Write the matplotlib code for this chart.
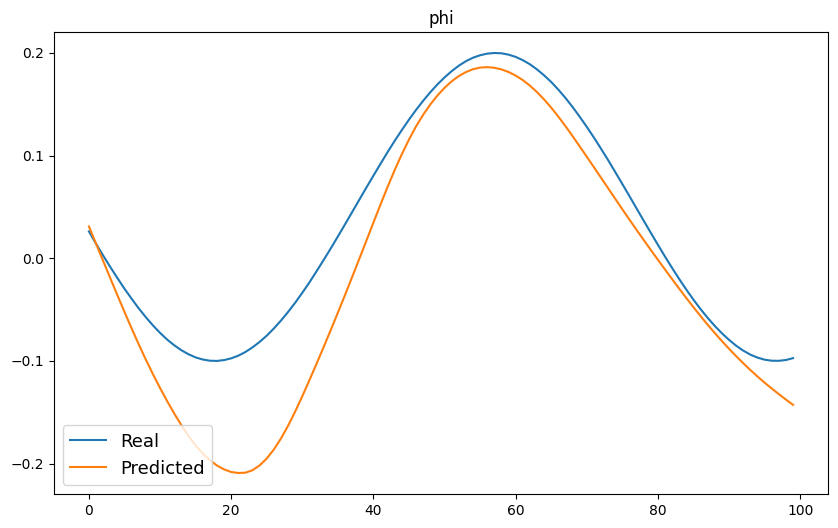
import matplotlib

matplotlib.use("Agg")
import matplotlib.pyplot as plt
import numpy as np

# values, one per step (0..99)
real = [
    0.0262, 0.0142, 0.0027, -0.0085, -0.0192, -0.0297, -0.0394, -0.0488, -0.0574, -0.0654,
    -0.0727, -0.0792, -0.0848, -0.0896, -0.0935, -0.0966, -0.0986, -0.0998, -0.1000, -0.0992,
    -0.0975, -0.0949, -0.0913, -0.0868, -0.0815, -0.0754, -0.0684, -0.0607, -0.0523, -0.0433,
    -0.0336, -0.0235, -0.0127, -0.0017, 0.0096, 0.0212, 0.0330, 0.0449, 0.0569, 0.0688,
    0.0805, 0.0921, 0.1035, 0.1145, 0.1250, 0.1351, 0.1446, 0.1535, 0.1618, 0.1694,
    0.1762, 0.1823, 0.1876, 0.1920, 0.1954, 0.1978, 0.1994, 0.2000, 0.1997, 0.1984,
    0.1962, 0.1930, 0.1890, 0.1840, 0.1782, 0.1717, 0.1643, 0.1562, 0.1474, 0.1379,
    0.1280, 0.1176, 0.1067, 0.0956, 0.0840, 0.0723, 0.0605, 0.0485, 0.0366, 0.0248,
    0.0131, 0.0016, -0.0095, -0.0203, -0.0306, -0.0404, -0.0496, -0.0581, -0.0660, -0.0731,
    -0.0795, -0.0852, -0.0900, -0.0939, -0.0968, -0.0988, -0.0998, -0.0999, -0.0991, -0.0973,
]

predicted = [
    0.0310, 0.0142, -0.0026, -0.0193, -0.0359, -0.0523, -0.0683, -0.0838, -0.0987, -0.1129,
    -0.1264, -0.1392, -0.1513, -0.1627, -0.1731, -0.1823, -0.1902, -0.1967, -0.2019, -0.2057,
    -0.2082, -0.2092, -0.2089, -0.2065, -0.2018, -0.1951, -0.1863, -0.1756, -0.1632, -0.1493,
    -0.1344, -0.1188, -0.1028, -0.0865, -0.0699, -0.0530, -0.0358, -0.0184, -0.0008, 0.0169,
    0.0348, 0.0525, 0.0697, 0.0861, 0.1015, 0.1157, 0.1286, 0.1399, 0.1499, 0.1586,
    0.1661, 0.1724, 0.1775, 0.1814, 0.1842, 0.1858, 0.1862, 0.1856, 0.1840, 0.1815,
    0.1780, 0.1736, 0.1682, 0.1619, 0.1547, 0.1467, 0.1380, 0.1287, 0.1190, 0.1090,
    0.0989, 0.0887, 0.0785, 0.0682, 0.0579, 0.0477, 0.0376, 0.0276, 0.0178, 0.0081,
    -0.0015, -0.0110, -0.0204, -0.0297, -0.0388, -0.0477, -0.0564, -0.0648, -0.0729, -0.0807,
    -0.0882, -0.0954, -0.1023, -0.1089, -0.1152, -0.1212, -0.1269, -0.1324, -0.1377, -0.1428,
]

steps = np.arange(len(real))

fig = plt.figure(figsize=(8.38, 5.28), dpi=100)
ax = fig.add_axes([0.0641, 0.0644, 0.9243, 0.875])
ax.plot(steps, real, label="Real")
ax.plot(steps, predicted, label="Predicted")
ax.set_title("phi")
ax.legend(loc="lower left", fontsize=13)

fig.savefig("out.png", dpi=100)
plt.close(fig)
